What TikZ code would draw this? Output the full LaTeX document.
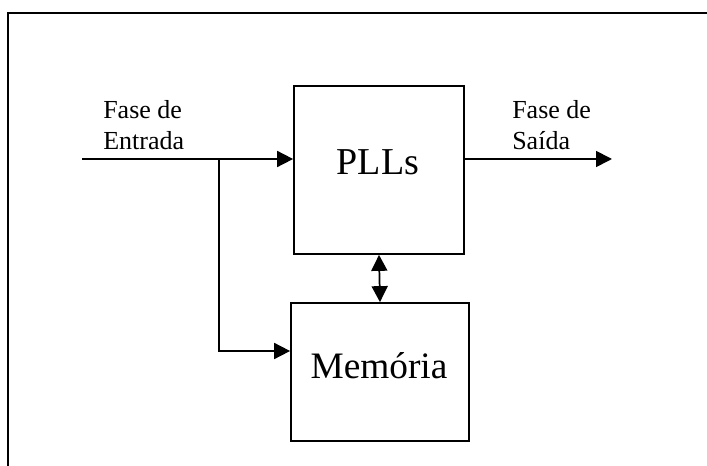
\documentclass[tikz,border=0pt]{standalone}
\usepackage{fontspec}
\setmainfont{Liberation Serif}
\usepackage{tikz}
\usetikzlibrary{positioning,calc,arrows.meta}

\tikzset{
    block/.style={draw, line width=1.3pt, inner sep=0pt},
    sig/.style={line width=1.3pt, -{Triangle[length=12pt,width=12pt]}},
    bisig/.style={line width=1.3pt, {Triangle[length=12pt,width=12pt]}-{Triangle[length=12pt,width=12pt]}},
    lbl/.style={inner sep=0pt, align=left, anchor=base west, font=\fontsize{19.5}{23.5}\selectfont}
}

\begin{document}
\begin{tikzpicture}[x=0.75pt, y=-0.75pt]
    \useasboundingbox (0,0) rectangle (707,466);

    % Frame (cut off on the right and at the bottom)
    \draw[line width=1.6pt] (8,466) -- (8,13) -- (707,13);

    % Blocks
    \node[block, minimum width=127.5pt, minimum height=126pt] (plls) at (379,170) {};
    \node[font=\fontsize{28.5}{30}\selectfont] (pllstxt) at (378,162) {PLLs};
    \node[block, minimum width=133.5pt, minimum height=103.5pt] (mem) at (380,372) {};
    \node[font=\fontsize{28}{30}\selectfont] (memtxt) at (379,366) {Memória};

    % Input and output
    \coordinate (in) at (82,159);
    \coordinate (split) at (219,159);
    \coordinate (out) at (612,159);

    \draw[sig] (in) -- (in -| plls.west);
    \draw[sig] (split) |- (mem.west |- 0,351);
    \draw[sig] (in -| plls.east) -- (out);
    \draw[bisig] (plls.south) -- (mem.north);

    % Labels
    \node[lbl] (inlbl) at (103,150) {Fase de\\Entrada};
    \node[lbl] (outlbl) at (512,150) {Fase de\\Saída};
\end{tikzpicture}
\end{document}
